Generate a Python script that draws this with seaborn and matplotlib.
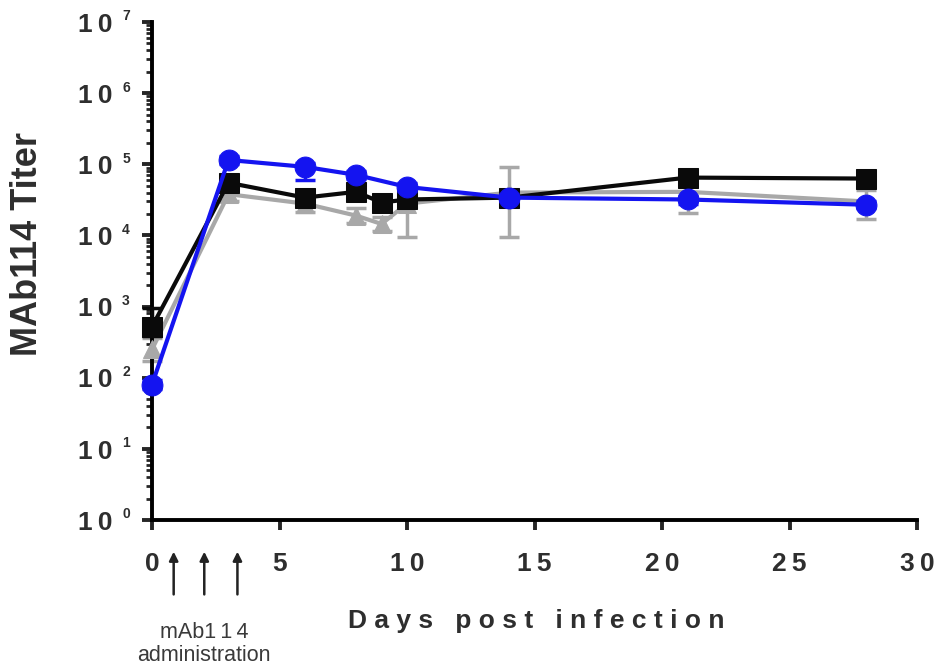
import numpy as np
import pandas as pd
import seaborn as sns
import matplotlib
matplotlib.use("Agg")
import matplotlib.pyplot as plt
import matplotlib.transforms as mtransforms

# Days post infection at which titers were measured
days_gray = [0, 3, 6, 8, 9, 10, 14, 21, 28]
days_black = [0, 3, 6, 8, 9, 10, 14, 21, 28]
days_blue = [0, 3, 6, 8, 10, 14, 21, 28]

# Mean MAb114 titers per group
titer_gray = [250, 3.8e4, 2.8e4, 1.9e4, 1.45e4, 2.8e4, 4.0e4, 4.1e4, 3.0e4]
titer_black = [520, 5.5e4, 3.4e4, 4.1e4, 2.9e4, 3.2e4, 3.4e4, 6.5e4, 6.3e4]
titer_blue = [80, 1.15e5, 9.2e4, 7.1e4, 4.8e4, 3.4e4, 3.2e4, 2.7e4]

# Error bar limits (lower, upper)
gray_low = [170, 3.0e4, 2.15e4, 1.5e4, 1.15e4, 9.5e3, 9.5e3, 2.1e4, 1.7e4]
gray_high = [360, 4.6e4, 3.5e4, 2.4e4, 1.8e4, 3.6e4, 9.1e4, 6.1e4, 4.3e4]
black_low = [380, 4.6e4, 2.9e4, 3.5e4, 2.5e4, 2.7e4, 2.9e4, 5.6e4, 5.4e4]
black_high = [950, 6.4e4, 3.9e4, 4.7e4, 3.3e4, 3.7e4, 3.9e4, 7.4e4, 7.2e4]
blue_low = [70, 1.0e5, 6.0e4, 6.2e4, 4.2e4, 3.0e4, 2.8e4, 2.4e4]
blue_high = [92, 1.3e5, 1.05e5, 8.0e4, 5.4e4, 3.8e4, 3.6e4, 3.0e4]

x_ticks = [0, 5, 10, 15, 20, 25, 30]
y_exponents = [0, 1, 2, 3, 4, 5, 6, 7]
dose_days = [0.85, 2.05, 3.35]

sns.set_style("ticks")
plt.rcParams["font.family"] = ["Liberation Sans", "DejaVu Sans"]

TXT = "#2e2e2e"
C_GRAY, C_BLACK, C_BLUE = "#a8a8a8", "#0a0a0a", "#1414f0"
THIN = "\u2009"

fig = plt.figure(figsize=(9.36, 6.70), dpi=100)
ax = fig.add_axes([152 / 936, 1 - 520 / 670, (917 - 152) / 936, (520 - 22) / 670])

frames = [
    pd.DataFrame({"day": days_gray, "titer": titer_gray}),
    pd.DataFrame({"day": days_black, "titer": titer_black}),
    pd.DataFrame({"day": days_blue, "titer": titer_blue}),
]
series = [
    (frames[0], gray_low, gray_high, C_GRAY, "^", 13, 2),
    (frames[1], black_low, black_high, C_BLACK, "s", 15, 4),
    (frames[2], blue_low, blue_high, C_BLUE, "o", 15, 6),
]

for df, lo, hi, col, mk, ms, z in series:
    t = np.asarray(df["titer"], float)
    yerr = np.vstack([t - np.asarray(lo), np.asarray(hi) - t])
    ax.errorbar(df["day"], t, yerr=yerr, fmt="none", ecolor=col,
                elinewidth=2.5, capsize=7, capthick=2.5, zorder=z, clip_on=False)
    sns.lineplot(data=df, x="day", y="titer", ax=ax, color=col, marker=mk,
                 markersize=ms, markeredgecolor=col, linewidth=3,
                 legend=False, zorder=z + 1, clip_on=False)

ax.set_yscale("log")
ax.set_xlim(0, 30)
ax.set_ylim(1, 1e7)
ax.set_xlabel("")
ax.set_ylabel("")

for s in ["top", "right"]:
    ax.spines[s].set_visible(False)
for s in ["left", "bottom"]:
    ax.spines[s].set_linewidth(2.8)
    ax.spines[s].set_color("black")

ax.set_xticks(x_ticks)
ax.set_xticklabels([THIN.join(str(v)) for v in x_ticks], fontsize=19,
                   fontweight="bold", color=TXT)
ax.tick_params(axis="x", which="major", direction="out", length=7, width=2.8, pad=16)

ax.set_yticks([10.0 ** e for e in y_exponents])
ax.yaxis.set_minor_locator(matplotlib.ticker.LogLocator(base=10, subs=np.arange(2, 10)))
ax.yaxis.set_minor_formatter(matplotlib.ticker.NullFormatter())
ax.set_yticklabels([""] * len(y_exponents))
ax.tick_params(axis="y", which="major", direction="out", length=7, width=2.8)
ax.tick_params(axis="y", which="minor", direction="out", length=4, width=2)

# y tick labels drawn as a base with a raised exponent
trans = mtransforms.blended_transform_factory(ax.transAxes, ax.transData)
down = mtransforms.ScaledTranslation(0, -2 / 72, fig.dpi_scale_trans)
up = mtransforms.ScaledTranslation(0, 4 / 72, fig.dpi_scale_trans)
for e in y_exponents:
    ax.text(-0.052, 10.0 ** e, THIN.join("10"), transform=trans + down,
            ha="right", va="center", fontsize=19, fontweight="bold", color=TXT)
    ax.text(-0.034, 10.0 ** e, str(e), transform=trans + up,
            ha="center", va="center", fontsize=10, fontweight="bold", color=TXT)

fig.text(28 / 936, 1 - 244 / 670, "MAb114 Titer", rotation=90, ha="center", va="center",
         fontsize=26, fontweight="bold", color=TXT)
ax.text(0.502, -0.203, "D a y s   p o s t   i n f e c t i o n", transform=ax.transAxes,
        ha="center", va="center", fontsize=19, fontweight="bold", color=TXT)

# dosing arrows below the axis
xa = mtransforms.blended_transform_factory(ax.transData, ax.transAxes)
for d in dose_days:
    ax.annotate("", xy=(d, -0.058), xytext=(d, -0.155),
                xycoords=xa, textcoords=xa,
                arrowprops=dict(arrowstyle="-|>", color="#222222", lw=1.8,
                                mutation_scale=13), annotation_clip=False)
ax.text(2.05, -0.205, "mAb1" + THIN + "1" + THIN + "4\nadministration", transform=xa,
        ha="center", va="top", fontsize=15.5, color="#3a3a3a", linespacing=1.1)

fig.savefig("out.png", dpi=100)
